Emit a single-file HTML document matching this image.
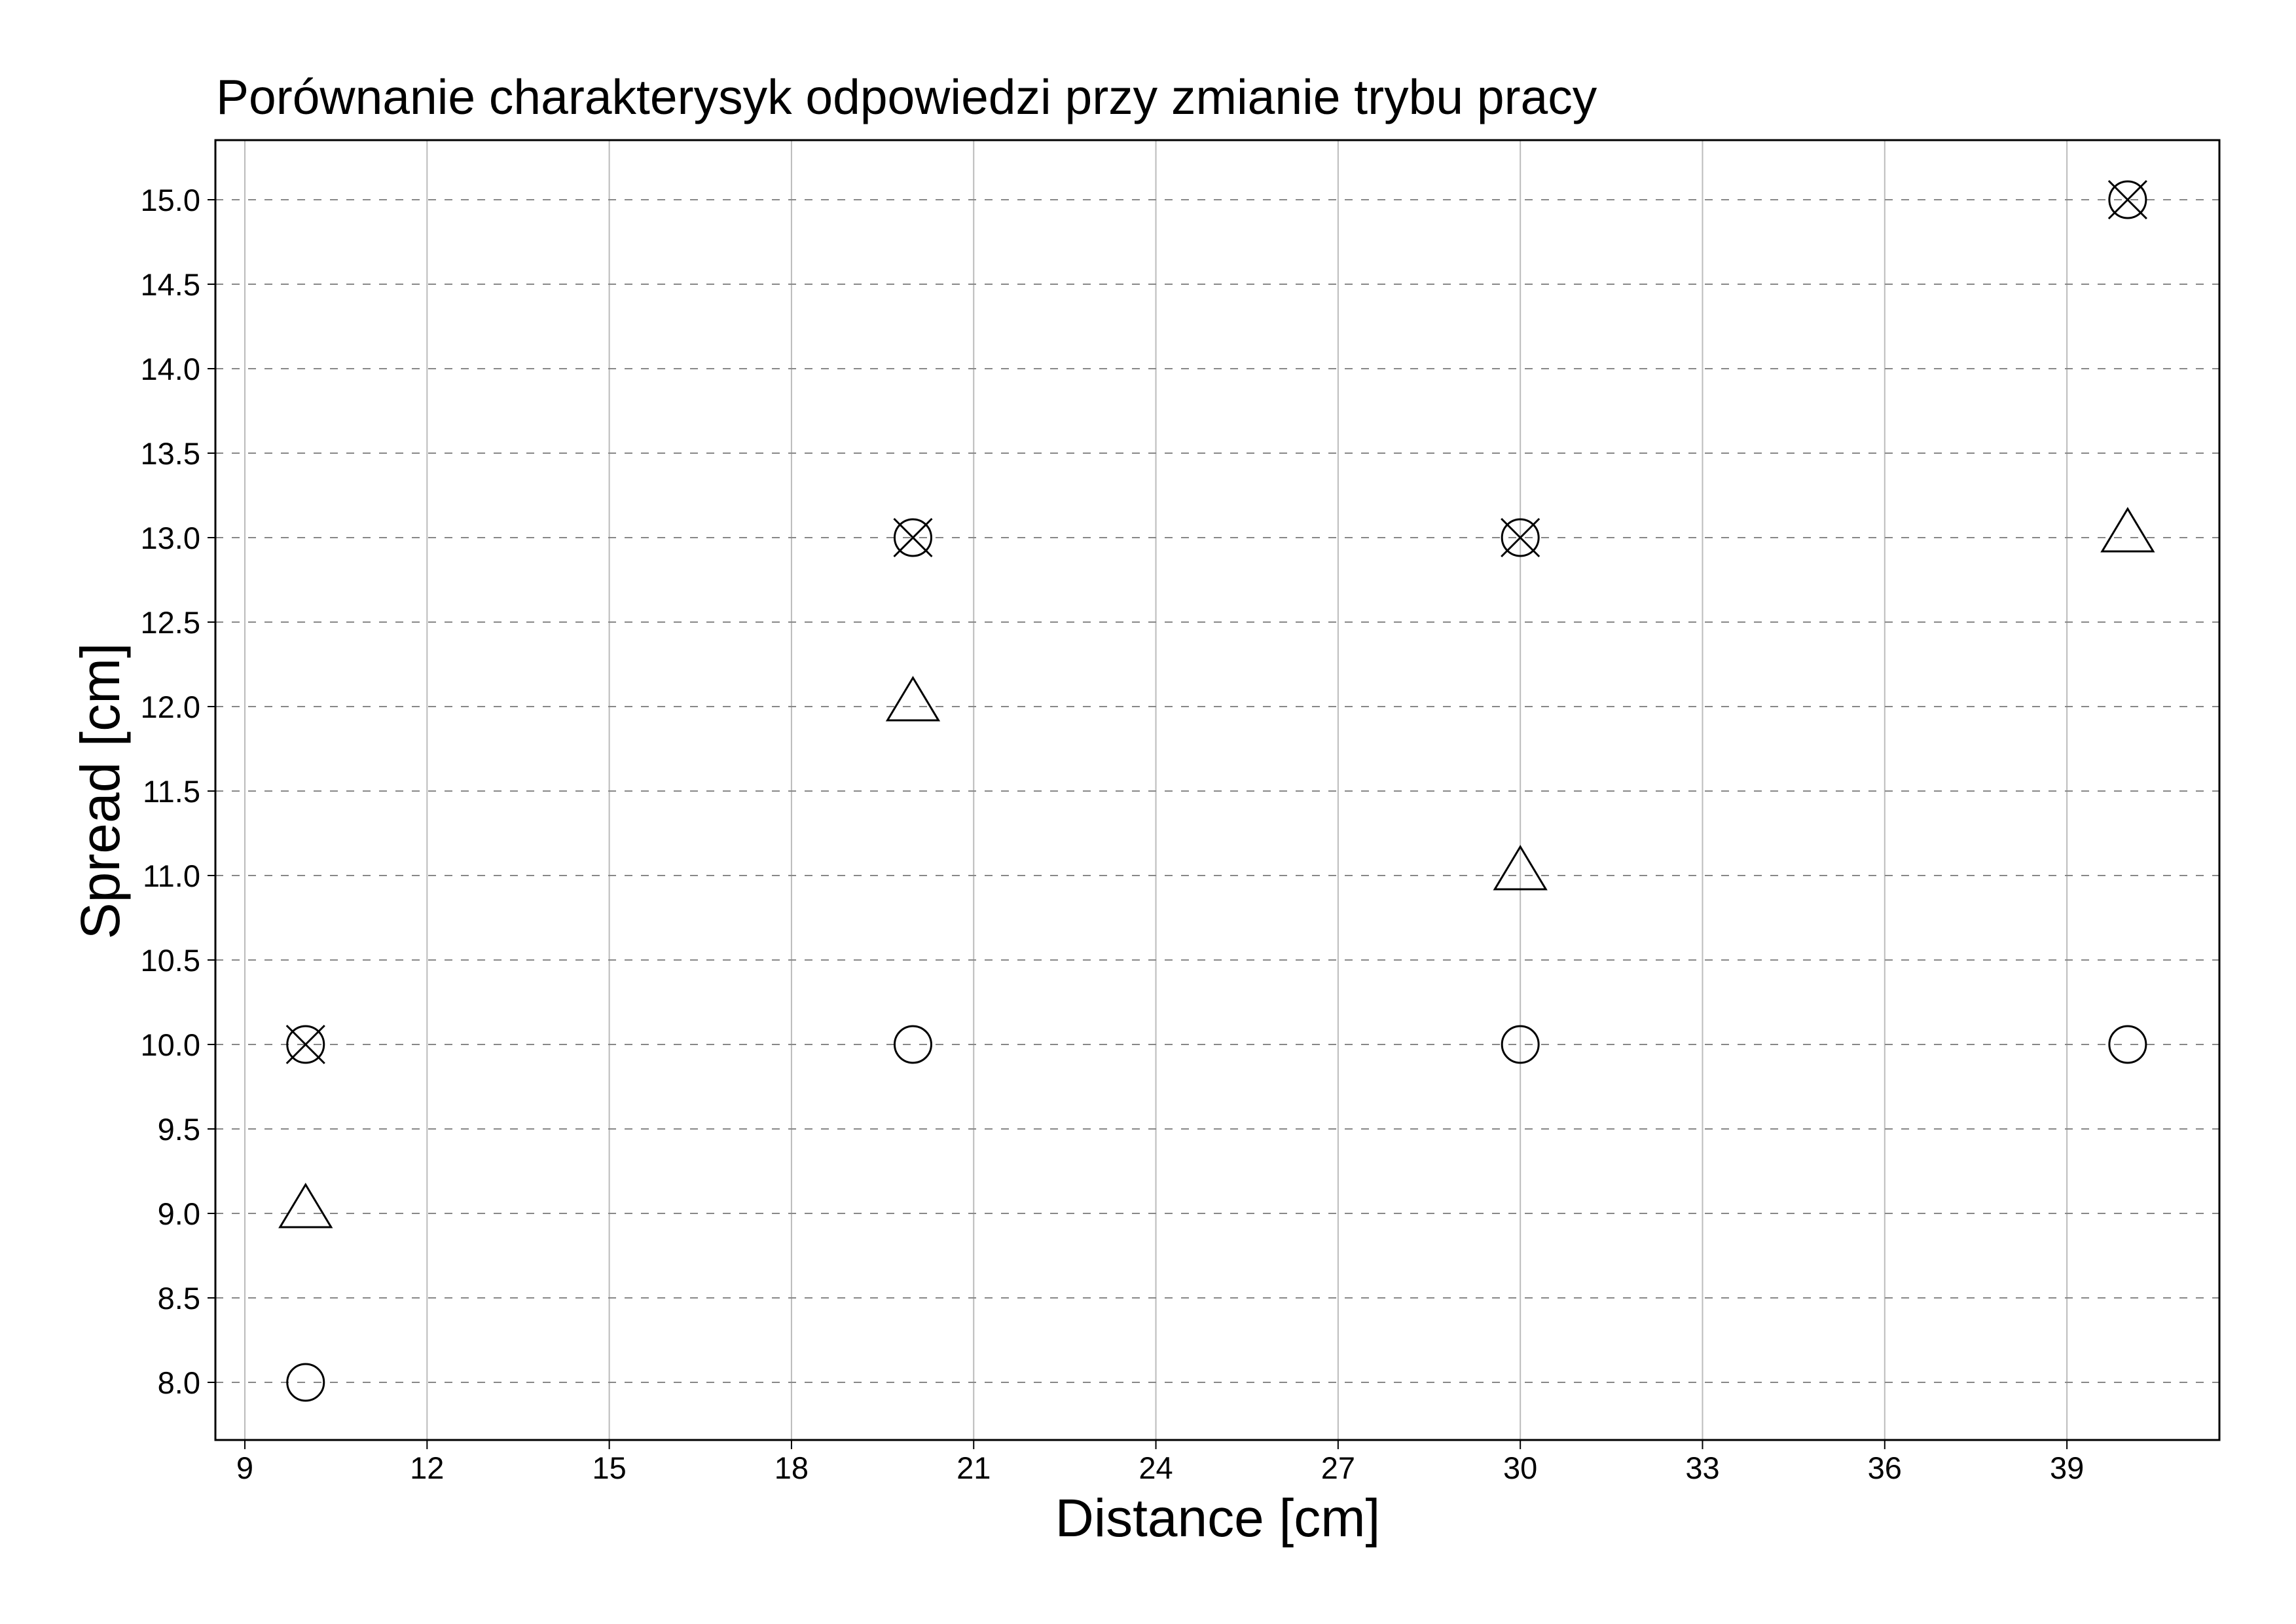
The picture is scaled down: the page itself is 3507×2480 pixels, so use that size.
<!DOCTYPE html>
<html><head><meta charset="utf-8"><style>
body{margin:0;background:#fff}
svg{display:block}
text{font-family:"Liberation Sans",Arial,sans-serif;fill:#000}
</style></head><body>
<svg id="chart" width="3507" height="2480" viewBox="0 0 3507 2480" xmlns="http://www.w3.org/2000/svg">
<rect width="3507" height="2480" fill="#fff"/>
<text x="330" y="174" font-size="75">Porównanie charakterysyk odpowiedzi przy zmianie trybu pracy</text>
<g id="grid"></g>
<g id="axes"></g>
<g id="marks"></g>
<text x="1860" y="2346" font-size="82" text-anchor="middle">Distance [cm]</text>
<text transform="translate(182,1208) rotate(-90)" font-size="84" text-anchor="middle">Spread [cm]</text>
</svg>
<script>
const xTicks = [9,12,15,18,21,24,27,30,33,36,39];
const yTicks = [8.0,8.5,9.0,9.5,10.0,10.5,11.0,11.5,12.0,12.5,13.0,13.5,14.0,14.5,15.0];
const xValues = [10,20,30,40];
const circleValues = [8,10,10,10];
const triangleValues = [9,12,11,13];
const crossCircleValues = [10,13,13,15];

const L=329,R=3390,T=214,B=2199;
function xs(v){return 374+(v-9)*92.77;}
function ys(v){return 2111-(v-8)*258;}
const NS="http://www.w3.org/2000/svg";
function mk(tag,attrs,parent){const e=document.createElementNS(NS,tag);for(const k in attrs)e.setAttribute(k,attrs[k]);parent.appendChild(e);return e;}
const grid=document.getElementById('grid'),axes=document.getElementById('axes'),marks=document.getElementById('marks');

xTicks.forEach(t=>{
  const x=xs(t);
  const g=mk('line',{x1:x,x2:x,y1:T,y2:B,stroke:'#bbb','stroke-width':2},grid);
  
  
  const tk=mk('line',{x1:x,x2:x,y1:B,y2:B+14,stroke:'#000','stroke-width':2},axes);
  
  
  const lb=mk('text',{x:x,y:2258,'font-size':47,'text-anchor':'middle'},axes);
  lb.textContent=String(t);
  
  
});
yTicks.forEach(t=>{
  const y=ys(t);
  const g=mk('line',{x1:L,x2:R,y1:y,y2:y,stroke:'#888','stroke-width':2,'stroke-dasharray':'12 13'},grid);
  
  
  const tk=mk('line',{x1:L-12,x2:L,y1:y,y2:y,stroke:'#000','stroke-width':2},axes);
  
  
  const lb=mk('text',{x:306,y:y+17,'font-size':47,'text-anchor':'end'},axes);
  lb.textContent=t.toFixed(1);
  
  
});
const frame=mk('rect',{x:L,y:T,width:R-L,height:B-T,fill:'none',stroke:'#000','stroke-width':3},axes);



xValues.forEach((xv,i)=>{
  const x=xs(xv);
  const c=mk('circle',{cx:x,cy:ys(circleValues[i]),r:28,fill:'none',stroke:'#000','stroke-width':3},marks);
  
  
  const y2=ys(triangleValues[i]);
  const tr=mk('polygon',{points:`${x},${y2-44} ${x+39},${y2+21} ${x-39},${y2+21}`,fill:'none',stroke:'#000','stroke-width':3},marks);
  
  
  const y3=ys(crossCircleValues[i]);
  const g=mk('g',{},marks);
  
  
  mk('circle',{cx:x,cy:y3,r:28,fill:'none',stroke:'#000','stroke-width':3},g);
  mk('path',{d:`M${x-29},${y3-29}L${x+29},${y3+29}M${x+29},${y3-29}L${x-29},${y3+29}`,stroke:'#000','stroke-width':3,fill:'none'},g);
});
</script>
</body></html>
